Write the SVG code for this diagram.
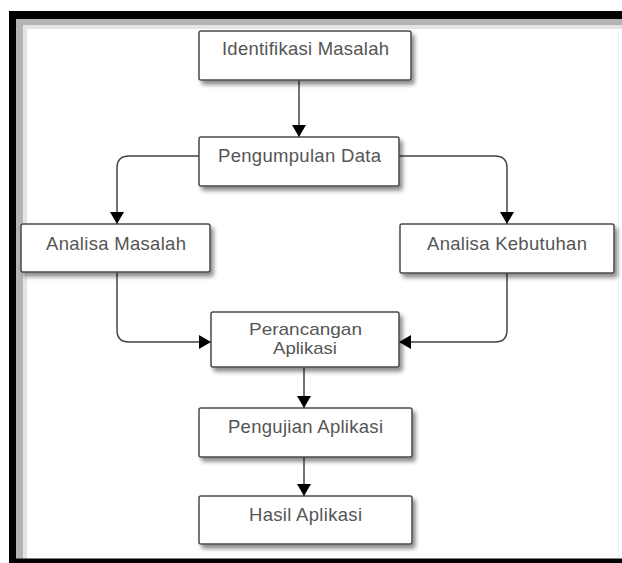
<svg xmlns="http://www.w3.org/2000/svg" width="622" height="563" viewBox="0 0 622 563">
<style>
.box{fill:#ffffff;stroke:#4a4a4a;stroke-width:1.5;filter:url(#sh)}
.lbl{font-family:"Liberation Sans",Arial,sans-serif;font-size:18.5px;fill:#555555;text-anchor:middle}
.sm{font-size:17px}
.con{fill:none;stroke:#444444;stroke-width:1.5}
</style>
<defs>
<filter id="sh" x="-10%" y="-20%" width="130%" height="160%">
<feDropShadow dx="3" dy="4" stdDeviation="2.2" flood-color="#000" flood-opacity="0.45"/>
</filter>
<marker id="ah" viewBox="0 0 12 14" refX="12" refY="7" markerWidth="12" markerHeight="14" markerUnits="userSpaceOnUse" orient="auto">
<path d="M0,0 L12,7 L0,14 Z" fill="#000"/>
</marker>
</defs>
<rect x="0" y="0" width="622" height="563" fill="#ffffff"/>
<g id="frame">
<rect x="16" y="19" width="606" height="6" fill="#b4b4b4"/>
<rect x="16" y="25" width="606" height="4" fill="#e4e4e4"/>
<rect x="16" y="19" width="7" height="540" fill="#b4b4b4"/>
<rect x="23" y="25" width="4" height="534" fill="#e4e4e4"/>
<rect x="618" y="29" width="1" height="530" fill="#f2f2f2"/>
<rect x="9" y="11" width="613" height="8" fill="#000"/>
<rect x="9" y="11" width="7" height="552" fill="#000"/>
<rect x="9" y="558.5" width="613" height="4.5" fill="#000"/>
</g>
<g id="connectors">
<path class="con" d="M299,80 V137" marker-end="url(#ah)"/>
<path class="con" d="M199,156 H129 Q117,156 117,168 V224" marker-end="url(#ah)"/>
<path class="con" d="M399,156 H495 Q507,156 507,168 V224" marker-end="url(#ah)"/>
<path class="con" d="M117,272 V330 Q117,342 129,342 H211" marker-end="url(#ah)"/>
<path class="con" d="M507,273 V330 Q507,342 495,342 H399" marker-end="url(#ah)"/>
<path class="con" d="M304,367 V408" marker-end="url(#ah)"/>
<path class="con" d="M304,457 V496" marker-end="url(#ah)"/>
</g>
<g id="identifikasi">
<rect class="box" x="199" y="31" width="212" height="49" rx="2"/>
<text class="lbl" x="305.5" y="55" textLength="167" lengthAdjust="spacing">Identifikasi Masalah</text>
</g>
<g id="pengumpulan">
<rect class="box" x="199" y="137" width="200" height="49" rx="2"/>
<text class="lbl" x="299.5" y="162" textLength="163" lengthAdjust="spacing">Pengumpulan Data</text>
</g>
<g id="analisa-masalah">
<rect class="box" x="21" y="224" width="189" height="48" rx="2"/>
<text class="lbl" x="116" y="250" textLength="140" lengthAdjust="spacing">Analisa Masalah</text>
</g>
<g id="analisa-kebutuhan">
<rect class="box" x="400" y="224" width="214" height="49" rx="2"/>
<text class="lbl" x="507" y="250" textLength="160" lengthAdjust="spacing">Analisa Kebutuhan</text>
</g>
<g id="perancangan">
<rect class="box" x="211" y="312" width="188" height="55" rx="2"/>
<text class="lbl sm" x="305.5" y="334.5" textLength="113" lengthAdjust="spacingAndGlyphs">Perancangan</text>
<text class="lbl sm" x="305" y="353.5" textLength="64" lengthAdjust="spacingAndGlyphs">Aplikasi</text>
</g>
<g id="pengujian">
<rect class="box" x="199" y="408" width="213" height="49" rx="2"/>
<text class="lbl" x="305.5" y="433" textLength="155" lengthAdjust="spacing">Pengujian Aplikasi</text>
</g>
<g id="hasil">
<rect class="box" x="199" y="496" width="213" height="48" rx="2"/>
<text class="lbl" x="305.5" y="521" textLength="113" lengthAdjust="spacing">Hasil Aplikasi</text>
</g>
</svg>
